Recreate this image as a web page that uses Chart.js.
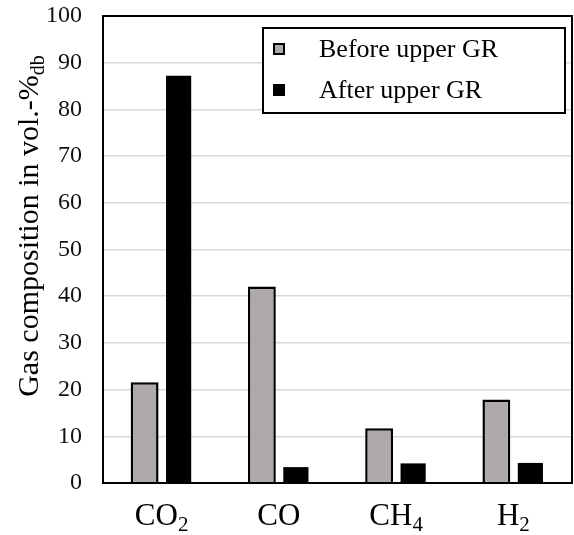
<!DOCTYPE html>
<html>
<head>
<meta charset="utf-8">
<script src="https://cdn.jsdelivr.net/npm/chart.js@4.4.0/dist/chart.umd.min.js"></script>
<style>
html,body{margin:0;padding:0;background:#fff;}
#wrap{width:574px;height:535px;position:relative;}
</style>
</head>
<body>
<div id="wrap"><canvas id="c"></canvas></div>
<script>
const categories = ['CO₂', 'CO', 'CH₄', 'H₂'];
const beforeValues = [21.6, 42.1, 11.7, 17.9];
const afterValues = [87.2, 3.4, 4.2, 4.3];
const seriesNames = ['Before upper GR', 'After upper GR'];
const yTicks = [0, 10, 20, 30, 40, 50, 60, 70, 80, 90, 100];
const yTitleMain = 'Gas composition in vol.-%';
const yTitleSub = 'db';

const SERIF = "'Liberation Serif', 'Times New Roman', serif";
const subMap = {'₀':'0','₁':'1','₂':'2','₃':'3','₄':'4','₅':'5','₆':'6','₇':'7','₈':'8','₉':'9'};

function splitSub(s) {
  const parts = [];
  for (const ch of s) {
    const sub = ch in subMap;
    const c = sub ? subMap[ch] : ch;
    if (parts.length && parts[parts.length - 1].sub === sub) parts[parts.length - 1].t += c;
    else parts.push({t: c, sub});
  }
  return parts;
}

const decor = {
  id: 'decor',
  afterDraw(chart) {
    const ctx = chart.ctx, a = chart.chartArea;
    ctx.save();
    // frame
    ctx.strokeStyle = '#000';
    ctx.lineWidth = 2;
    ctx.strokeRect(a.left, a.top, a.right - a.left, a.bottom - a.top);

    // x labels with subscripts
    const xs = chart.scales.x;
    ctx.fillStyle = '#000';
    ctx.textBaseline = 'alphabetic';
    ctx.textAlign = 'left';
    const mainF = '31px ' + SERIF, subF = '21px ' + SERIF;
    categories.forEach((lab, i) => {
      const parts = splitSub(lab);
      let w = 0;
      parts.forEach(p => { ctx.font = p.sub ? subF : mainF; p.w = ctx.measureText(p.t).width; w += p.w; });
      let x = xs.getPixelForValue(i) - w / 2;
      const base = 525;
      parts.forEach(p => {
        ctx.font = p.sub ? subF : mainF;
        ctx.fillText(p.t, x, p.sub ? base + 6 : base);
        x += p.w;
      });
    });

    // y title rotated
    ctx.save();
    const mf = '30px ' + SERIF, sf = '20px ' + SERIF;
    ctx.font = mf; const w1 = ctx.measureText(yTitleMain).width;
    ctx.font = sf; const w2 = ctx.measureText(yTitleSub).width;
    const cy = (402 + 50) / 2;
    ctx.translate(38, cy);
    ctx.rotate(-Math.PI / 2);
    const x0 = -(w1 + w2) / 2;
    ctx.font = mf; ctx.fillText(yTitleMain, x0, 0);
    ctx.font = sf; ctx.fillText(yTitleSub, x0 + w1, 6);
    ctx.restore();

    // legend box
    const lx = 263, ly = 28, lw = 302, lh = 85;
    ctx.fillStyle = '#fff';
    ctx.fillRect(lx, ly, lw, lh);
    ctx.strokeStyle = '#000';
    ctx.lineWidth = 2;
    ctx.strokeRect(lx, ly, lw, lh);
    const ds = chart.data.datasets;
    const rows = [49, 90];
    ds.forEach((d, i) => {
      const cyr = rows[i];
      ctx.fillStyle = d.backgroundColor;
      ctx.fillRect(273, cyr - 6, 12, 12);
      if (d.borderWidth) {
        ctx.strokeStyle = '#000'; ctx.lineWidth = 2;
        ctx.strokeRect(274, cyr - 5, 10, 10);
      }
      ctx.fillStyle = '#000';
      ctx.font = '26px ' + SERIF;
      ctx.textBaseline = 'middle';
      ctx.fillText(d.label, 319, cyr + 1);
    });
    ctx.restore();
  }
};

new Chart(document.getElementById('c'), {
  type: 'bar',
  data: {
    labels: categories,
    datasets: [
      {label: seriesNames[0], data: beforeValues, backgroundColor: '#AEAAAA', borderColor: '#000', borderWidth: 2.5, barPercentage: 0.82, categoryPercentage: 0.58},
      {label: seriesNames[1], data: afterValues, backgroundColor: '#000', borderColor: '#000', borderWidth: 0, barPercentage: 0.74, categoryPercentage: 0.58}
    ]
  },
  options: {
    responsive: true,
    maintainAspectRatio: false,
    animation: false,
    layout: {padding: {left: 0, right: 2, top: 16, bottom: 0}},
    plugins: {legend: {display: false}, tooltip: {enabled: false}, title: {display: false}},
    scales: {
      x: {
        grid: {display: false},
        border: {display: false},
        ticks: {display: false},
        afterFit(s) { s.height = 52; s.paddingLeft = 0; s.paddingRight = 0; }
      },
      y: {
        min: 0, max: 100,
        afterBuildTicks(s) { s.ticks = yTicks.map(v => ({value: v})); },
        grid: {color: '#d9d9d9', lineWidth: 1.5, drawTicks: false},
        border: {display: false},
        ticks: {font: {family: SERIF, size: 24}, color: '#111', padding: 21},
        afterFit(s) { s.width = 103; s.paddingTop = 0; s.paddingBottom = 0; }
      }
    }
  },
  plugins: [decor]
});
</script>
</body>
</html>
